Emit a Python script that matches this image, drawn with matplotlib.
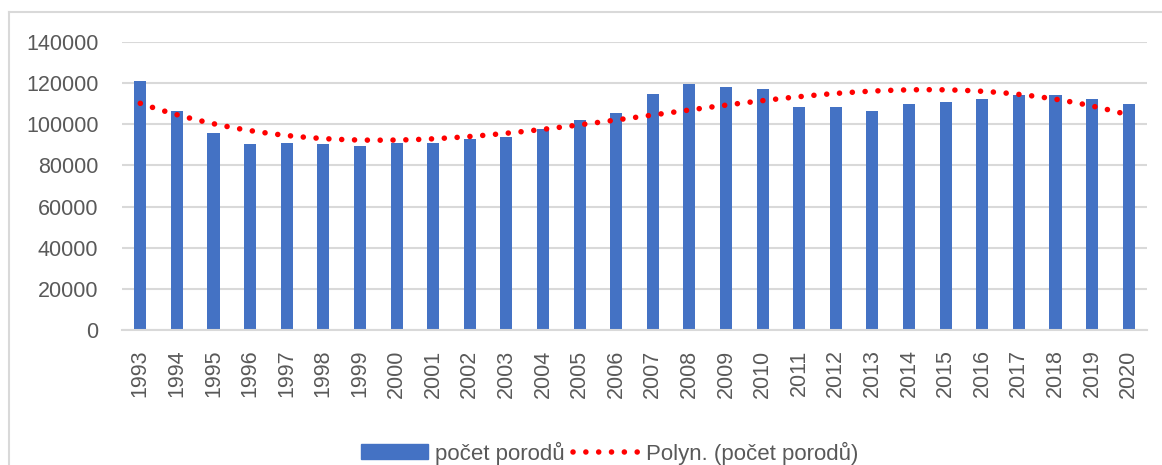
import matplotlib.pyplot as plt
import numpy as np
from matplotlib.lines import Line2D
from matplotlib.patches import Patch

years = list(range(1993, 2021))
porody = [120800, 106500, 95900, 90400, 90700, 90400, 89400, 90700,
          90700, 92700, 93600, 97600, 102100, 105600, 114600, 119600,
          118300, 117000, 108600, 108300, 106500, 109700, 110600, 112500,
          114100, 114000, 112100, 109900]
yticks = [0, 20000, 40000, 60000, 80000, 100000, 120000, 140000]

plt.rcParams['font.family'] = ['Liberation Sans', 'DejaVu Sans']
txt_color = '#595959'
grid_color = '#D9D9D9'
dots = (0, (0.01, 2.3))

fig = plt.figure(figsize=(11.62, 4.65), dpi=100)
ax = fig.add_axes([122 / 1162, 1 - 330 / 465, (1147 - 122) / 1162, (330 - 42) / 465])

x = np.arange(len(years))
ax.bar(x, porody, width=0.33, color='#4472C4', zorder=2)

# polynomial trendline (3rd order), like Excel's "Polyn." trend
coef = np.polyfit(x + 1, porody, 3)
xs = np.linspace(0, len(years) - 1, 400)
ax.plot(xs, np.polyval(coef, xs + 1), color='#FF0000', lw=4,
        linestyle=dots, dash_capstyle='round', zorder=3)

ax.set_xlim(-0.5, len(years) - 0.5)
ax.set_ylim(0, 140000)
ax.set_yticks(yticks)
ax.set_yticklabels([str(v) for v in yticks])
ax.set_xticks(x)
ax.set_xticklabels([str(y) for y in years], rotation=90)
ax.tick_params(axis='both', length=0, labelsize=15.5, colors=txt_color)
ax.tick_params(axis='y', pad=17)
ax.tick_params(axis='x', pad=14)
ax.grid(axis='y', color=grid_color, lw=1.5, zorder=0)
for s in ['top', 'right', 'left']:
    ax.spines[s].set_visible(False)
ax.spines['bottom'].set_color(grid_color)
ax.spines['bottom'].set_linewidth(1.5)

# chart frame
fig.add_artist(Line2D([9 / 1162, 9 / 1162], [0, 1 - 12 / 465], color=grid_color, lw=1.5))
fig.add_artist(Line2D([9 / 1162, 1], [1 - 12 / 465, 1 - 12 / 465], color=grid_color, lw=1.5))

handles = [Patch(color='#4472C4', label='počet porodů'),
           Line2D([0], [0], color='#FF0000', lw=4, linestyle=dots,
                  dash_capstyle='round', label='Polyn. (počet porodů)')]
leg = fig.legend(handles=handles, loc='center', bbox_to_anchor=(610 / 1162, 1 - 453 / 465),
                 ncol=2, frameon=False, fontsize=16, handlelength=3.0, handleheight=0.65,
                 handletextpad=0.3, columnspacing=0.4)
for t in leg.get_texts():
    t.set_color(txt_color)

fig.savefig('out.png', dpi=100)
